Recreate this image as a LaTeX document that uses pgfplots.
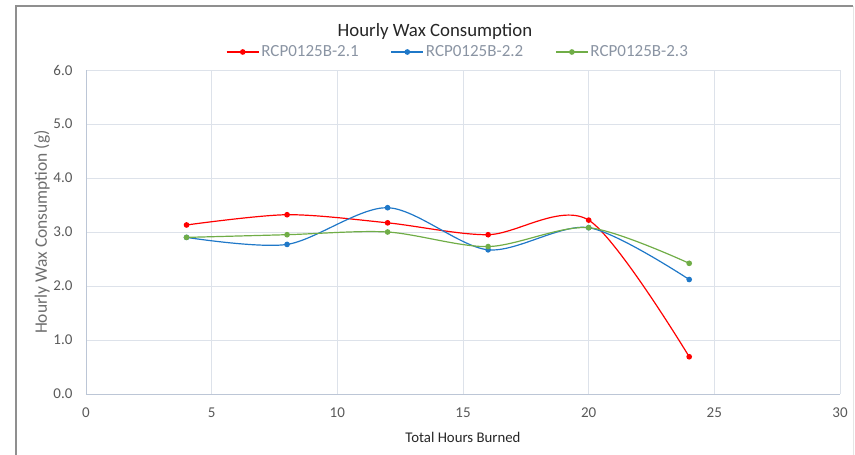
\documentclass[border=0pt]{standalone}
\usepackage{pgfplots}
\pgfplotsset{compat=1.18}
\usepackage{fontspec}
\setmainfont{Carlito}
\definecolor{sred}{HTML}{FF0000}
\definecolor{sblue}{HTML}{1F78C8}
\definecolor{sgreen}{HTML}{70AD47}
\definecolor{gridc}{HTML}{DDE2EA}
\definecolor{axc}{HTML}{BCC6D6}
\definecolor{tickc}{HTML}{595959}
\definecolor{ylabc}{HTML}{6E6E6E}
\definecolor{legc}{HTML}{8A94A3}
\definecolor{framec}{HTML}{8F8F8F}
\begin{document}
\begin{tikzpicture}[x=1pt,y=1pt]
\useasboundingbox (0,0) rectangle (855,455);
\draw[framec,line width=1.2pt] (16,0) -- (16,449) -- (853,449);
\draw[gray!20,line width=0.8pt] (853,449) -- (853,0);
\node[font=\fontsize{18.8}{21}\selectfont,text=black!85] at (435,424) {Hourly Wax Consumption};
\begin{axis}[
  at={(86pt,61pt)}, anchor=south west,
  scale only axis, width=754pt, height=324pt,
  xmin=0, xmax=30, ymin=0, ymax=6,
  xtick={0,5,...,30}, ytick={0,1,...,6},
  yticklabel={\pgfmathprintnumber[fixed,fixed zerofill,precision=1]{\tick}},
  /pgf/number format/assume math mode=true,
  tick label style={font=\fontsize{15}{17}\selectfont, text=tickc},
  xticklabel style={yshift=-10pt},
  yticklabel style={xshift=-10pt},
  major tick length=0pt,
  grid=major,
  major grid style={gridc, line width=0.8pt},
  axis line style={axc, line width=0.9pt},
  axis lines=left,
  axis line style={-},
  xlabel={Total Hours Burned},
  ylabel={Hourly Wax Consumption (g)},
  xlabel style={at={(axis description cs:0.5,0)}, anchor=center, yshift=-43pt, font=\fontsize{14.8}{17}\selectfont, text=black!85},
  ylabel style={at={(axis description cs:0,0.5)}, anchor=center, yshift=44pt, font=\fontsize{17.5}{19}\selectfont, text=ylabc},
  legend columns=3,
  legend style={at={(458pt-86pt,403pt-61pt)}, anchor=center, draw=none, fill=none,
    font=\fontsize{17}{19}\selectfont, text=legc,
    /tikz/every even column/.append style={column sep=30pt}},
  legend cell align=left,
  legend image code/.code={\draw[mark repeat=2,mark phase=2] plot coordinates {(0pt,0pt)(16pt,0pt)(32pt,0pt)};},
  every axis plot/.append style={line width=1.2pt, smooth, mark=*, mark size=2.2pt},
]
\addplot[sred, mark options={fill=sred}] coordinates {(4,3.13) (8,3.32) (12,3.17) (16,2.95) (20,3.22) (24,0.69)};
\addlegendentry{RCP0125B-2.1}
\addplot[sblue, mark options={fill=sblue}] coordinates {(4,2.90) (8,2.77) (12,3.45) (16,2.67) (20,3.08) (24,2.12)};
\addlegendentry{RCP0125B-2.2}
\addplot[sgreen, mark options={fill=sgreen}] coordinates {(4,2.90) (8,2.95) (12,3.00) (16,2.73) (20,3.08) (24,2.42)};
\addlegendentry{RCP0125B-2.3}
\end{axis}
\end{tikzpicture}
\end{document}
